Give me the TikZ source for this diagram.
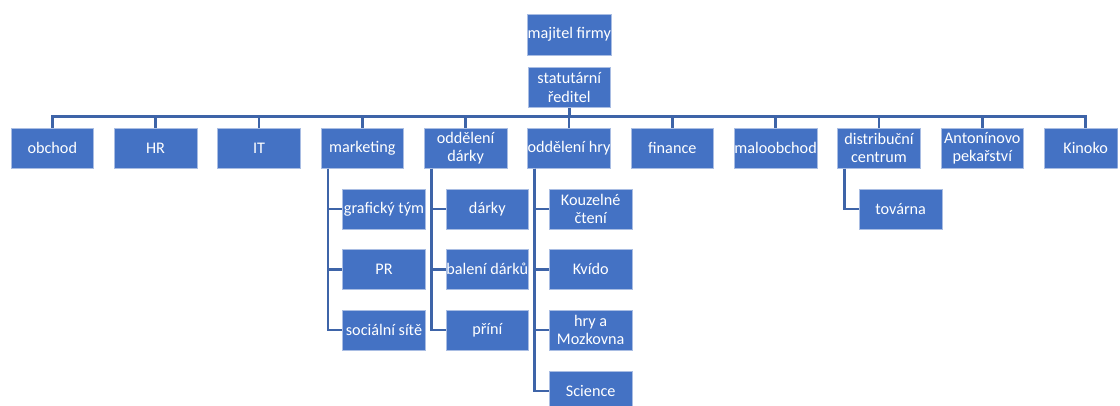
\documentclass[tikz,border=0pt]{standalone}
\usepackage{fontspec}
\setmainfont{Carlito}
\definecolor{boxblue}{HTML}{4472C4}
\definecolor{boxedge}{HTML}{A9BDE3}
\definecolor{connblue}{HTML}{3E64A8}
\begin{document}
\begin{tikzpicture}[x=1pt,y=-1pt,
  orgbox/.style={rectangle, fill=boxblue, draw=boxedge, line width=0.7pt,
    minimum width=82.6pt, minimum height=40.3pt, inner sep=0pt, align=center,
    text=white, font=\fontsize{16.2pt}{18.3pt}\selectfont},
  conn/.style={draw=connblue, line width=2.5pt}]
\useasboundingbox (0,0) rectangle (1120,405);
\clip (0,0) rectangle (1117.5,405);
% top
\node[orgbox] (own) at (569.3,34.7) {majitel firmy};
\node[orgbox] (stat) at (569.3,87.5) {statutární\\ředitel};
\coordinate (bus) at (0,116.7);
% first level
\node[orgbox] (obchod) at (52.3,148.2) {obchod};
\node[orgbox] (hr) at (155.6,148.2) {HR};
\node[orgbox] (it) at (259,148.2) {IT};
\node[orgbox] (mkt) at (362.3,148.2) {marketing};
\node[orgbox] (odd) at (465.6,148.2) {oddělení\\dárky};
\node[orgbox] (ohry) at (569,148.2) {oddělení hry};
\node[orgbox] (fin) at (672.3,148.2) {finance};
\node[orgbox] (malo) at (775.6,148.2) {maloobchod};
\node[orgbox] (dist) at (879,148.2) {distribuční\\centrum};
\node[orgbox] (pek) at (982.3,148.2) {Antonínovo\\pekařství};
\node[orgbox] (kin) at (1085.6,148.2) {Kinoko};
% sub level
\node[orgbox] (graf) at (384,209) {grafický tým};
\node[orgbox] (pr) at (384,269.3) {PR};
\node[orgbox] (soc) at (384,330.2) {sociální sítě};
\node[orgbox] (darky) at (487.3,209) {dárky};
\node[orgbox] (bal) at (487.3,269.3) {balení dárků};
\node[orgbox] (pri) at (487.3,330.2) {příní};
\node[orgbox] (kouz) at (590.7,209) {Kouzelné\\čtení};
\node[orgbox] (kvido) at (590.7,269.3) {Kvído};
\node[orgbox] (mozk) at (590.7,330.2) {hry a\\Mozkovna};
\node[orgbox] (sci) at (590.7,391) {Science};
\node[orgbox] (tov) at (900.7,209) {továrna};
% connectors level 1
\foreach \c in {obchod,hr,it,mkt,odd,ohry,fin,malo,dist,pek,kin}
  \draw[conn] (stat.south) -- (stat.south |- bus) -| (\c.north);
% connectors level 2
\foreach \c in {graf,pr,soc}
  \draw[conn] ([xshift=7.3pt]mkt.south west) |- (\c.west);
\foreach \c in {darky,bal,pri}
  \draw[conn] ([xshift=7.3pt]odd.south west) |- (\c.west);
\foreach \c in {kouz,kvido,mozk,sci}
  \draw[conn] ([xshift=7.3pt]ohry.south west) |- (\c.west);
\draw[conn] ([xshift=7.3pt]dist.south west) |- (tov.west);
\end{tikzpicture}
\end{document}
